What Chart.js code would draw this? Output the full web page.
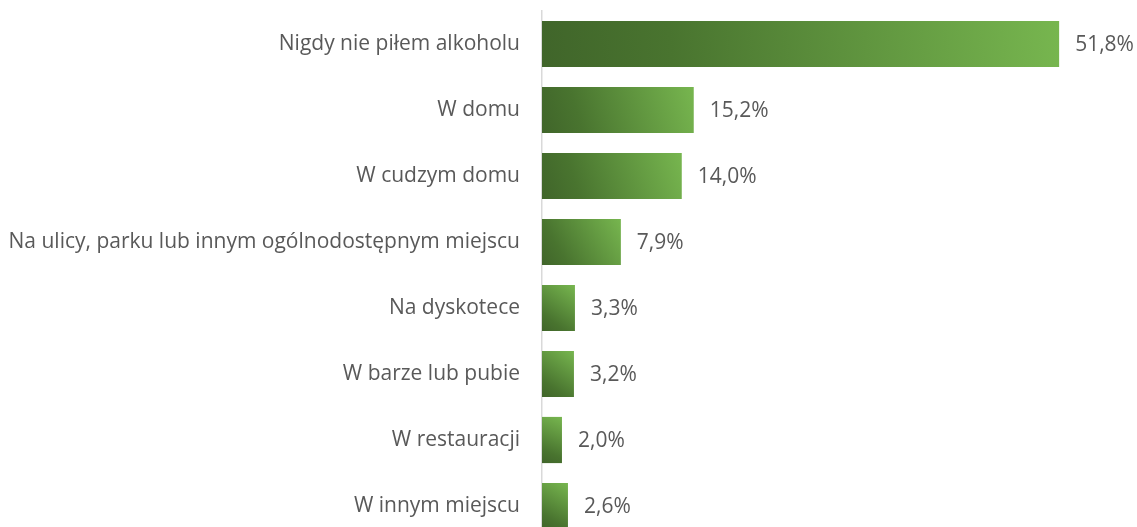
<!DOCTYPE html>
<html>
<head>
<meta charset="utf-8">
<script src="https://cdn.jsdelivr.net/npm/chart.js@4.4.1/dist/chart.umd.min.js"></script>
<style>
    html, body { margin: 0; padding: 0; background: #fff; overflow: hidden; }
    canvas { display: block; }
</style>
</head>
<body>
<canvas id="chart" width="1137" height="545"></canvas>
<script>
const categories = [
    "Nigdy nie piłem alkoholu",
    "W domu",
    "W cudzym domu",
    "Na ulicy, parku lub innym ogólnodostępnym miejscu",
    "Na dyskotece",
    "W barze lub pubie",
    "W restauracji",
    "W innym miejscu",
];
const values = [51.8, 15.2, 14.0, 7.9, 3.3, 3.2, 2.0, 2.6];

const textColor = "#595959";
const fontFamily = "'Open Sans', sans-serif";
const fontSize = 21;

// diagonal gradient per bar, dark bottom-left -> light top-right
function barGradient(context) {
    const chart = context.chart;
    const { x, y } = chart.scales;
    if (!x || !y || context.dataIndex === undefined) return "#5f9a3d";
    const i = context.dataIndex;
    const cy = y.getPixelForValue(i);
    const h = (y.height / categories.length) * 0.7;
    const x0 = x.getPixelForValue(0);
    const x1 = x.getPixelForValue(values[i]);
    if (![cy, h, x0, x1].every(Number.isFinite) || x1 === x0) return "#5f9a3d";
    const g = chart.ctx.createLinearGradient(x0, cy + h / 2, x1, cy - h / 2);
    g.addColorStop(0, "#40652A");
    g.addColorStop(0.25, "#49742F");
    g.addColorStop(1, "#77B64F");
    return g;
}

const valueLabels = {
    id: "valueLabels",
    afterDatasetsDraw(chart) {
        const { ctx } = chart;
        const meta = chart.getDatasetMeta(0);
        ctx.save();
        ctx.font = `${fontSize}px ${fontFamily}`;
        ctx.fillStyle = textColor;
        ctx.textAlign = "left";
        ctx.textBaseline = "middle";
        meta.data.forEach((bar, i) => {
            const txt = values[i].toFixed(1).replace(".", ",") + "%";
            ctx.fillText(txt, bar.x + 16, bar.y + 1);
        });
        ctx.restore();
    },
};

new Chart(document.getElementById("chart"), {
    type: "bar",
    data: {
        labels: categories,
        datasets: [{
            data: values,
            backgroundColor: barGradient,
            borderWidth: 0,
            categoryPercentage: 0.7,
            barPercentage: 1,
        }],
    },
    options: {
        indexAxis: "y",
        responsive: false,
        animation: false,
        layout: { padding: { top: 11, right: 1, bottom: 6, left: 0 } },
        plugins: {
            legend: { display: false },
            tooltip: { enabled: false },
        },
        scales: {
            x: {
                display: false,
                min: 0,
                max: 59.5,
            },
            y: {
                afterFit(scale) {
                    scale.width = 542;
                    scale.paddingTop = 0;
                    scale.paddingBottom = 0;
                },
                grid: { display: false, drawTicks: false },
                border: { display: true, color: "#d9d9d9", width: 1.5 },
                ticks: {
                    padding: 22,
                    color: textColor,
                    font: { family: fontFamily, size: fontSize },
                },
            },
        },
    },
    plugins: [valueLabels],
});
</script>
</body>
</html>
